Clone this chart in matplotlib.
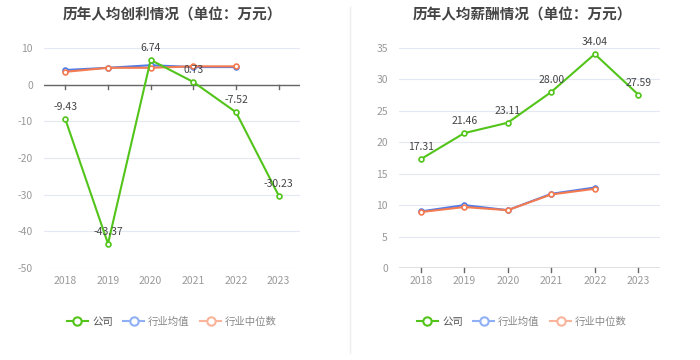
import matplotlib
matplotlib.use("Agg")
import matplotlib.pyplot as plt
from matplotlib.lines import Line2D

plt.rcParams['font.family'] = ['Noto Sans CJK SC', 'DejaVu Sans']

years = ['2018', '2019', '2020', '2021', '2022', '2023']
profit_company = [-9.43, -43.37, 6.74, 0.73, -7.52, -30.23]
profit_avg = [4.0, 4.6, 5.3, 4.8, 4.8]
profit_median = [3.5, 4.6, 4.6, 5.0, 5.0]
salary_company = [17.31, 21.46, 23.11, 28.00, 34.04, 27.59]
salary_avg = [9.0, 10.0, 9.2, 11.8, 12.8]
salary_median = [8.9, 9.7, 9.2, 11.7, 12.6]

titles = ['历年人均创利情况（单位：万元）', '历年人均薪酬情况（单位：万元）']
legend_labels = ['公司', '行业均值', '行业中位数']

GREEN = '#52c41a'
BLUE = '#4f7be8'
ORANGE = '#f47a50'
LGREEN = '#52c41a'
LBLUE = '#8fb0f5'
LORANGE = '#f9b49a'

fig = plt.figure(figsize=(7, 3.6), dpi=100)

def draw(ax, comp, avg, med, ylim, yticks, zero_y):
    x = list(range(len(years)))
    ax.plot(x[:len(avg)], avg, color=BLUE, lw=1.5, marker='o', ms=3.5,
            mfc='white', mec=BLUE, mew=1.2, zorder=3)
    ax.plot(x[:len(med)], med, color=ORANGE, lw=1.5, marker='o', ms=3.5,
            mfc='white', mec=ORANGE, mew=1.2, zorder=4)
    ax.plot(x, comp, color=GREEN, lw=1.5, marker='o', ms=3.5,
            mfc='white', mec=GREEN, mew=1.2, zorder=5)
    for xi, v in zip(x, comp):
        ax.annotate(f'{v:.2f}', (xi, v), xytext=(0, 5), textcoords='offset points',
                    ha='center', va='bottom', fontsize=7.5, color='#444444', zorder=6)
    ax.set_xlim(-0.5, len(years) - 0.5)
    ax.set_ylim(*ylim)
    ax.set_yticks(yticks)
    ax.set_yticklabels([str(t) for t in yticks], fontsize=7.5, color='#999999')
    ax.set_xticks(x)
    ax.set_xticklabels(years, fontsize=7.5, color='#999999')
    ax.tick_params(axis='y', length=0, pad=8)
    ax.tick_params(axis='x', length=0, pad=6)
    for s in ax.spines.values():
        s.set_visible(False)
    ax.grid(axis='y', color='#e3e8f3', lw=0.8)
    ax.set_axisbelow(True)
    # zero axis line with ticks
    ax.axhline(zero_y, color='#666666', lw=1, zorder=2)
    for b in [i - 0.5 for i in range(len(years) + 1)]:
        pass
    for xi in x:
        ax.plot([xi, xi], [zero_y, zero_y - (ylim[1] - ylim[0]) * 0.02],
                color='#666666', lw=1, zorder=2, clip_on=False)

ax1 = fig.add_axes([44/700, 92/360, 256/700, 220/360])
draw(ax1, profit_company, profit_avg, profit_median, (-50, 10),
     [-50, -40, -30, -20, -10, 0, 10], 0)
ax2 = fig.add_axes([399/700, 92/360, 261/700, 220/360])
draw(ax2, salary_company, salary_avg, salary_median, (0, 35),
     [0, 5, 10, 15, 20, 25, 30, 35], 0)

fig.text(172/700, 1 - 14/360, titles[0], ha='center', va='center',
         fontsize=10.5, fontweight='bold', color='#444444')
fig.text(522/700, 1 - 14/360, titles[1], ha='center', va='center',
         fontsize=10.5, fontweight='bold', color='#444444')

fig.add_artist(Line2D([350/700, 350/700], [0.02, 0.98], color='#eeeeee', lw=1))

handles = [
    Line2D([], [], color=LGREEN, lw=1.5, marker='o', ms=6, mfc='white', mec=LGREEN, mew=1.5),
    Line2D([], [], color=LBLUE, lw=1.5, marker='o', ms=6, mfc='white', mec=LBLUE, mew=1.5),
    Line2D([], [], color=LORANGE, lw=1.5, marker='o', ms=6, mfc='white', mec=LORANGE, mew=1.5),
]
for cx in (172/700, 522/700):
    leg = fig.legend(handles, legend_labels, loc='center', bbox_to_anchor=(cx, 1 - 322/360),
                     ncol=3, frameon=False, fontsize=7.5, handlelength=2.0,
                     columnspacing=1.0, handletextpad=0.4, labelcolor='#888888')
    leg.get_texts()[0].set_color('#555555')

fig.savefig('out.png', dpi=100, facecolor='white')
